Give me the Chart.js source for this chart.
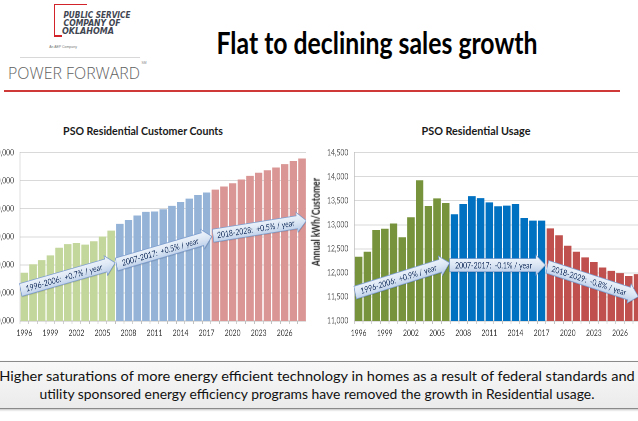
<!DOCTYPE html>
<html><head><meta charset="utf-8">
<script src="https://cdn.jsdelivr.net/npm/chart.js@4.4.1/dist/chart.umd.min.js"></script>
<style>
html,body{margin:0;padding:0;width:638px;height:421px;overflow:hidden;background:#fff;}
body{position:relative;font-family:Lato,"Open Sans",sans-serif;}
.abs{position:absolute;white-space:nowrap;line-height:1;}
.wrap{position:absolute;transform-origin:0 0;}
.wrap canvas{position:absolute;left:0;top:0;}
#bottomBox{position:absolute;left:-2px;top:361px;width:642px;height:46px;background:linear-gradient(#f8f8f8,#ebebeb);border-top:1.5px solid #8a8a8a;border-bottom:1.5px solid #8a8a8a;box-shadow:0 1px 2px rgba(0,0,0,0.25);}
</style></head><body>
<div id="bottomBox"></div>
<div class="wrap" style="left:-40px;top:140px;width:433px;height:201px;transform:scaleX(0.8)">
  <canvas id="custChart" width="433" height="201" style="width:433px;height:201px"></canvas>
</div>
<div class="wrap" style="left:305px;top:140px;width:421px;height:201px;transform:scaleX(0.8)">
  <canvas id="usageChart" width="421" height="201" style="width:421px;height:201px"></canvas>
</div>
<div style="position:absolute;left:4px;top:90px;width:616px;height:2px;background:#cf3a38"></div>
<div style="position:absolute;left:54px;top:4px;width:32px;height:30px;border-top:1.6px solid #d2232a;border-left:1.6px solid #d2232a"></div>
<div style="position:absolute;left:54px;top:35px;width:8px;height:1.6px;background:#d2232a"></div>
<div style="position:absolute;left:20px;top:57px;width:120px;height:1px;background:#d8d8d8"></div>
<script>
// ---------- DATA ----------
const years = ['1996','1997','1998','1999','2000','2001','2002','2003','2004','2005','2006',
               '2007','2008','2009','2010','2011','2012','2013','2014','2015','2016','2017',
               '2018','2019','2020','2021','2022','2023','2024','2025','2026','2027','2028'];
const xTickYears = ['1996','1999','2002','2005','2008','2011','2014','2017','2020','2023','2026'];
const customerCounts = [414400,420400,423400,426800,432200,434800,435600,434400,436800,440200,444400,
                        449200,452000,455200,457800,458000,459600,462000,464800,467200,469800,471600,
                        473600,475800,478200,480800,483400,485600,487400,489400,491800,494000,495800];
const usageKwh = [12336,12439,12891,12918,13027,12741,13157,13925,13391,13548,13452,
                  13218,13432,13596,13555,13466,13384,13398,13432,13140,13085,13085,
                  12925,12782,12564,12439,12323,12227,12111,12041,11995,11934,11975];
const periodEnds = ['2006','2017','2028'];
const customerTicks = {min:380000, max:500000, step:20000};
const usageTicks = {min:11000, max:14500, step:500};
const customerArrowTexts = ['1996-2006:  +0.7% / year','2007-2017:  +0.5% / year','2018-2028:  +0.5% / year'];
const usageArrowTexts = ['1996-2006:  +0.9% / year','2007-2017:  -0.1% / year','2018-2029:  -0.8% / year'];

// ---------- STYLE / LAYOUT ----------
const SX = 0.8; // horizontal compression of the original slide
const custColors = ['#c3d69b','#95b3d7','#d99694'];
const usageColors = ['#77933c','#0070c0','#c0504d'];
// arrow anchors in data space [category index, value]
const custArrowPos = [
  {from:[-0.42,402100], to:[10.46,421500]},
  {from:[10.62,420300], to:[21.6,440300]},
  {from:[21.75,440800], to:[32.5,451500]}
];
const usageArrowPos = [
  {from:[-0.4,11590], to:[10.44,12209]},
  {from:[10.44,12162], to:[21.45,12162]},
  {from:[21.66,12127], to:[32.1,11508]}
];

const mctx = document.createElement('canvas').getContext('2d');
function widthAt(text, font, size){
  mctx.font = font.replace('{s}', size+'px');
  return mctx.measureText(text).width;
}

function colorFor(palette){
  return years.map(y => palette[periodEnds.findIndex(e => y <= e)]);
}

const arrowPlugin = {
  id:'growthArrows',
  afterDatasetsDraw(chart, args, opts){
    const {ctx} = chart; const xs = chart.scales.x, ys = chart.scales.y;
    opts.arrows.forEach(a => {
      const x1 = xs.getPixelForValue(a.from[0]), y1 = ys.getPixelForValue(a.from[1]);
      const x2 = xs.getPixelForValue(a.to[0]), y2 = ys.getPixelForValue(a.to[1]);
      const L = Math.hypot(x2-x1, y2-y1), ang = Math.atan2(y2-y1, x2-x1);
      const bh = 6.5, hh = 10, hl = 12;
      ctx.save();
      ctx.translate(x1,y1); ctx.rotate(ang);
      ctx.beginPath();
      ctx.moveTo(0,-bh); ctx.lineTo(L-hl,-bh); ctx.lineTo(L-hl,-hh); ctx.lineTo(L,0);
      ctx.lineTo(L-hl,hh); ctx.lineTo(L-hl,bh); ctx.lineTo(0,bh); ctx.closePath();
      const g = ctx.createLinearGradient(0,-hh,0,hh);
      g.addColorStop(0,'#f3f7fc'); g.addColorStop(0.5,'#dce7f5'); g.addColorStop(1,'#b4c9e6');
      ctx.shadowColor='rgba(0,0,0,0.3)'; ctx.shadowBlur=2; ctx.shadowOffsetX=1; ctx.shadowOffsetY=1;
      ctx.fillStyle=g; ctx.fill();
      ctx.shadowColor='transparent';
      ctx.strokeStyle='#7f9fd0'; ctx.lineWidth=0.8; ctx.stroke();
      ctx.fillStyle='#1f3864';
      ctx.font = opts.fontSize+'px Lato';
      ctx.textAlign='center'; ctx.textBaseline='middle';
      const tw = ctx.measureText(a.text).width, avail = L-hl-8;
      const k = Math.min(1, avail/tw);
      ctx.translate((L-hl)/2+1, 0.5); ctx.scale(k,1);
      ctx.fillText(a.text,0,0);
      ctx.restore();
    });
  }
};

function makeChart(id, values, palette, ticks, axisWidth, arrowPos, arrowTexts){
  return new Chart(document.getElementById(id), {
    type:'bar',
    data:{labels:years, datasets:[{data:values, backgroundColor:colorFor(palette), borderWidth:0,
          barPercentage:0.86, categoryPercentage:1}]},
    options:{
      responsive:false, animation:false, events:[], devicePixelRatio:2,
      layout:{padding:{top:12,right:0,bottom:0,left:0}},
      plugins:{legend:{display:false}, tooltip:{enabled:false}, title:{display:false},
        growthArrows:{fontSize:8.6, arrows:arrowPos.map((p,i)=>({...p, text:arrowTexts[i]}))}},
      scales:{
        x:{grid:{display:true, drawOnChartArea:false, drawTicks:true, tickLength:3, offset:true, color:'#bfbfbf'},
           border:{display:true,color:'#bfbfbf'},
           ticks:{autoSkip:false, maxRotation:0, minRotation:0, padding:4, color:'#404040',
                  font:{family:'Lato', size:8.5},
                  callback:(v,i)=> xTickYears.includes(years[i]) ? years[i] : ''},
           afterFit:s=>{s.height=20;}},
        y:{min:ticks.min, max:ticks.max,
           grid:{color:'#d9d9d9', drawTicks:false},
           border:{display:true,color:'#bfbfbf'},
           ticks:{stepSize:ticks.step, padding:7.5, color:'#595959', font:{family:'Lato', size:8.5},
                  callback:v=>v.toLocaleString('en-US')},
           afterFit:s=>{s.width=axisWidth/SX;}}
      }
    },
    plugins:[arrowPlugin]
  });
}

makeChart('custChart', customerCounts, custColors, customerTicks, 60, custArrowPos, customerArrowTexts);
makeChart('usageChart', usageKwh, usageColors, usageTicks, 49.3, usageArrowPos, usageArrowTexts);

// ---------- TEXT ----------
const texts = [
  {t:'Flat to declining sales growth', cx:377, cy:42, w:321, size:30, font:'bold {s} Lato', color:'#000'},
  {t:'PSO Residential Customer Counts', cx:143, cy:130.5, w:160, size:11.5, font:'bold {s} Lato', color:'#1a1a1a'},
  {t:'PSO Residential Usage', cx:476, cy:130.5, w:109, size:11.5, font:'bold {s} Lato', color:'#1a1a1a'},
  {t:'Annual kWh/Customer', cx:315.5, cy:222, w:88, size:10.5, font:'bold {s} Lato', color:'#1a1a1a', rot:-90},
  {t:'Higher saturations of more energy efficient technology in homes as a result of federal standards and', cx:317, cy:376, w:637, size:14, font:'normal {s} Lato', color:'#111'},
  {t:'utility sponsored energy efficiency programs have removed the growth in Residential usage.', cx:317, cy:393.5, w:556, size:14, font:'normal {s} Lato', color:'#111'},
  {t:'PUBLIC SERVICE', cx:97, cy:14.5, w:67, size:8.5, font:'italic bold {s} "DejaVu Sans Condensed"', color:'#3f4652'},
  {t:'COMPANY OF', cx:92, cy:22.8, w:57, size:8.5, font:'italic bold {s} "DejaVu Sans Condensed"', color:'#3f4652'},
  {t:'OKLAHOMA', cx:87.5, cy:31, w:52, size:8.5, font:'italic bold {s} "DejaVu Sans Condensed"', color:'#3f4652'},
  {t:'An AEP Company', cx:63, cy:47.7, w:28, size:3.5, font:'normal {s} "Liberation Sans"', color:'#777'},
  {t:'POWER FORWARD', cx:73.5, cy:72.5, w:132, size:16, font:'300 {s} "Open Sans"', color:'#5f5f5f'},
  {t:'SM', cx:143.5, cy:64, w:5, size:3.5, font:'normal {s} "Liberation Sans"', color:'#888'}
];
texts.forEach(o=>{
  const d = document.createElement('div');
  d.className='abs'; d.textContent=o.t;
  d.style.font = o.font.replace('{s}', o.size+'px');
  d.style.lineHeight='1';
  d.style.color=o.color;
  d.style.left=o.cx+'px'; d.style.top=o.cy+'px';
  const k = o.w / widthAt(o.t, o.font, o.size);
  d.style.transform='translate(-50%,-50%)'+(o.rot?` rotate(${o.rot}deg)`:'')+` scaleX(${k})`;
  document.body.appendChild(d);
});
</script>
</body></html>
